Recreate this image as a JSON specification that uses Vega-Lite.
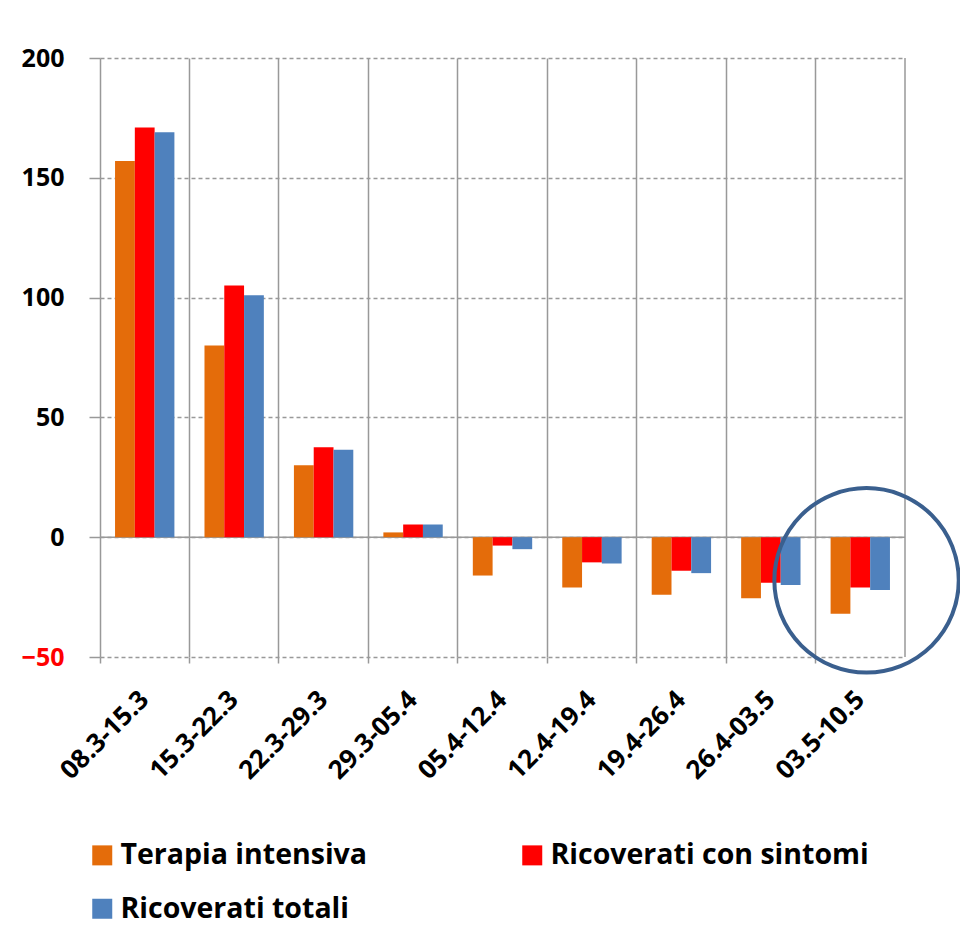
{
  "$schema": "https://vega.github.io/schema/vega-lite/v6.json",
  "width": 805,
  "height": 599,
  "autosize": {"type": "none"},
  "padding": {"left": 100, "top": 58, "right": 55, "bottom": 274},
  "background": "white",
  "config": {"view": {"stroke": null}, "font": "Open Sans"},
  "data": {
    "values": [
      {"periodo": "08.3-15.3", "serie": "Terapia intensiva", "valore": 157},
      {"periodo": "08.3-15.3", "serie": "Ricoverati con sintomi", "valore": 171},
      {"periodo": "08.3-15.3", "serie": "Ricoverati totali", "valore": 169},
      {"periodo": "15.3-22.3", "serie": "Terapia intensiva", "valore": 80},
      {"periodo": "15.3-22.3", "serie": "Ricoverati con sintomi", "valore": 105},
      {"periodo": "15.3-22.3", "serie": "Ricoverati totali", "valore": 101},
      {"periodo": "22.3-29.3", "serie": "Terapia intensiva", "valore": 30},
      {"periodo": "22.3-29.3", "serie": "Ricoverati con sintomi", "valore": 37.5},
      {"periodo": "22.3-29.3", "serie": "Ricoverati totali", "valore": 36.5},
      {"periodo": "29.3-05.4", "serie": "Terapia intensiva", "valore": 2},
      {"periodo": "29.3-05.4", "serie": "Ricoverati con sintomi", "valore": 5.3},
      {"periodo": "29.3-05.4", "serie": "Ricoverati totali", "valore": 5.3},
      {"periodo": "05.4-12.4", "serie": "Terapia intensiva", "valore": -16},
      {"periodo": "05.4-12.4", "serie": "Ricoverati con sintomi", "valore": -3.5},
      {"periodo": "05.4-12.4", "serie": "Ricoverati totali", "valore": -5},
      {"periodo": "12.4-19.4", "serie": "Terapia intensiva", "valore": -21},
      {"periodo": "12.4-19.4", "serie": "Ricoverati con sintomi", "valore": -10.5},
      {"periodo": "12.4-19.4", "serie": "Ricoverati totali", "valore": -11},
      {"periodo": "19.4-26.4", "serie": "Terapia intensiva", "valore": -24},
      {"periodo": "19.4-26.4", "serie": "Ricoverati con sintomi", "valore": -14},
      {"periodo": "19.4-26.4", "serie": "Ricoverati totali", "valore": -15},
      {"periodo": "26.4-03.5", "serie": "Terapia intensiva", "valore": -25.5},
      {"periodo": "26.4-03.5", "serie": "Ricoverati con sintomi", "valore": -19},
      {"periodo": "26.4-03.5", "serie": "Ricoverati totali", "valore": -20},
      {"periodo": "03.5-10.5", "serie": "Terapia intensiva", "valore": -32},
      {"periodo": "03.5-10.5", "serie": "Ricoverati con sintomi", "valore": -21},
      {"periodo": "03.5-10.5", "serie": "Ricoverati totali", "valore": -22}
    ]
  },
  "layer": [
    {
      "data": {"values": [{}]},
      "mark": {"type": "rule", "color": "#999999", "strokeWidth": 1.5},
      "encoding": {"y": {"datum": 0, "type": "quantitative"}}
    },
    {
      "data": {"values": [{}]},
      "mark": {"type": "rule", "color": "#999999", "strokeWidth": 1.5},
      "encoding": {"x": {"datum": "03.5-10.5", "type": "nominal", "bandPosition": 1}}
    },
    {
      "mark": {"type": "bar"},
      "encoding": {
        "x": {
          "field": "periodo",
          "type": "nominal",
          "sort": null,
          "title": null,
          "scale": {
            "domain": ["08.3-15.3", "15.3-22.3", "22.3-29.3", "29.3-05.4", "05.4-12.4", "12.4-19.4", "19.4-26.4", "26.4-03.5", "03.5-10.5"],
            "paddingInner": 0,
            "paddingOuter": 0
          },
          "axis": {
            "bandPosition": 0,
            "grid": true,
            "gridColor": "#999999",
            "gridWidth": 1.5,
            "ticks": true,
            "tickSize": 6,
            "tickColor": "#999999",
            "tickWidth": 1.5,
            "domain": false,
            "labelAngle": -45,
            "labelAlign": "right",
            "labelBaseline": "middle",
            "labelPadding": 32,
            "labelFontSize": 26,
            "labelFontWeight": "bold",
            "labelColor": "#000000"
          }
        },
        "xOffset": {
          "field": "serie",
          "type": "nominal",
          "sort": ["Terapia intensiva", "Ricoverati con sintomi", "Ricoverati totali"],
          "scale": {"paddingInner": 0, "paddingOuter": 0.76}
        },
        "y": {
          "field": "valore",
          "type": "quantitative",
          "title": null,
          "scale": {"domain": [-50, 200], "nice": false},
          "axis": {
            "values": [-50, 0, 50, 100, 150, 200],
            "grid": true,
            "gridColor": "#999999",
            "gridWidth": 1.5,
            "gridDash": [4, 3],
            "ticks": true,
            "tickSize": 11,
            "tickColor": "#999999",
            "tickWidth": 1.5,
            "domain": false,
            "labelPadding": 25,
            "labelFontSize": 25,
            "labelFontWeight": "bold",
            "labelColor": {"condition": {"test": "datum.value < 0", "value": "#ff0000"}, "value": "#000000"}
          }
        },
        "color": {
          "field": "serie",
          "type": "nominal",
          "sort": ["Terapia intensiva", "Ricoverati con sintomi", "Ricoverati totali"],
          "scale": {
            "domain": ["Terapia intensiva", "Ricoverati con sintomi", "Ricoverati totali"],
            "range": ["#E46C0A", "#FF0000", "#4F81BD"]
          },
          "legend": {
            "title": null,
            "orient": "none",
            "legendX": -12,
            "legendY": 783,
            "direction": "horizontal",
            "columns": 2,
            "columnPadding": 150,
            "rowPadding": 24.5,
            "symbolType": "square",
            "symbolSize": 400,
            "symbolStrokeWidth": 0,
            "symbolOpacity": 1,
            "labelFontSize": 28.5,
            "labelFontWeight": "bold",
            "labelColor": "#000000",
            "labelOffset": 4,
            "labelLimit": 400
          }
        }
      }
    },
    {
      "data": {"values": [{}]},
      "mark": {"type": "point", "shape": "circle", "filled": false, "stroke": "#3A5F8E", "strokeWidth": 4, "size": 34000, "opacity": 1},
      "encoding": {
        "x": {"datum": "03.5-10.5", "type": "nominal", "bandPosition": 0.57},
        "y": {"datum": -18, "type": "quantitative"}
      }
    }
  ]
}
